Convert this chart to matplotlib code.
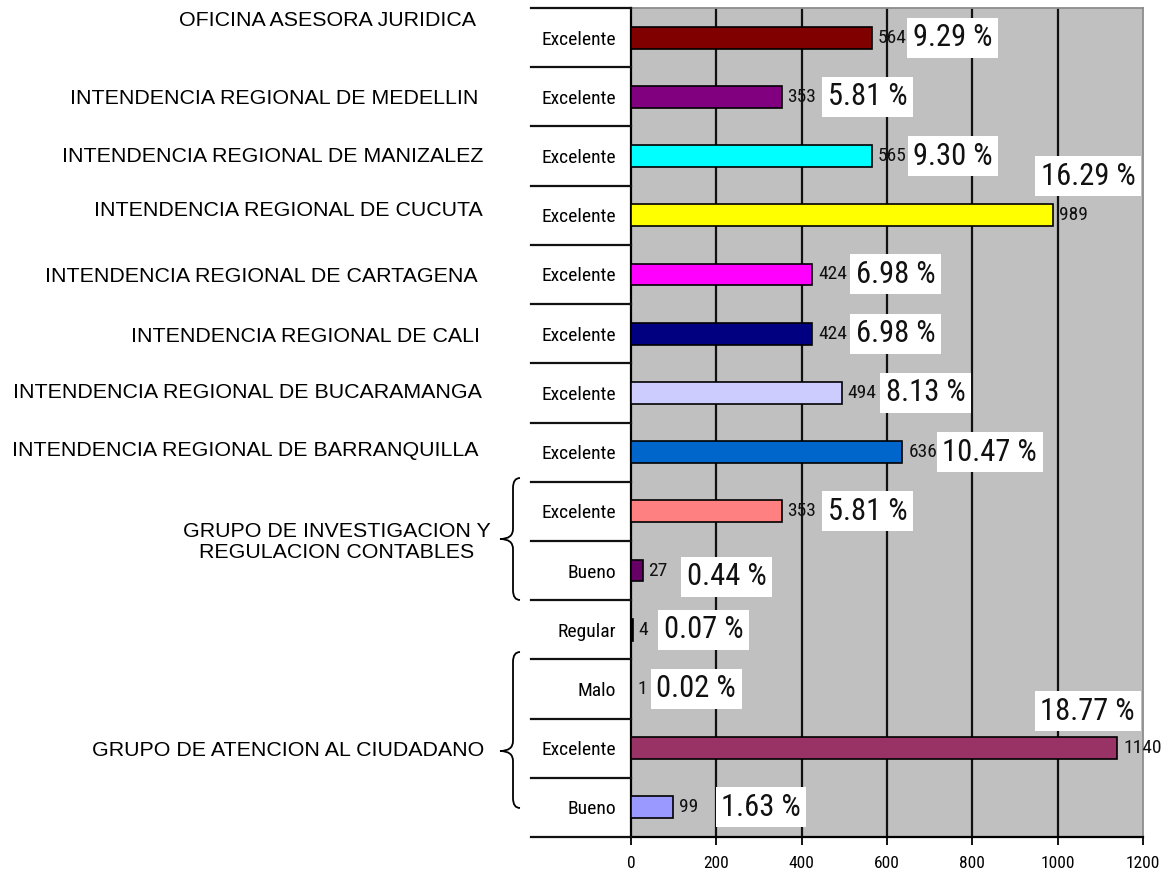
import matplotlib
matplotlib.use('Agg')
import matplotlib.pyplot as plt
from matplotlib import font_manager
from matplotlib.path import Path
from matplotlib.patches import PathPatch
from matplotlib.lines import Line2D
from matplotlib.transforms import blended_transform_factory

# ---------------- data ----------------
categories = ['Excelente', 'Excelente', 'Excelente', 'Excelente', 'Excelente',
              'Excelente', 'Excelente', 'Excelente', 'Excelente', 'Bueno',
              'Regular', 'Malo', 'Excelente', 'Bueno']
values = [564, 353, 565, 989, 424, 424, 494, 636, 353, 27, 4, 1, 1140, 99]
percents = [9.29, 5.81, 9.30, 16.29, 6.98, 6.98, 8.13, 10.47, 5.81, 0.44,
            0.07, 0.02, 18.77, 1.63]
bar_colors = ['#800000', '#800080', '#00FFFF', '#FFFF00', '#FF00FF', '#000080',
              '#CCCCFF', '#0066CC', '#FF8080', '#660066', '#000000', '#333333',
              '#993366', '#9999FF']
group_labels = ['OFICINA ASESORA JURIDICA',
                'INTENDENCIA REGIONAL DE MEDELLIN',
                'INTENDENCIA REGIONAL DE MANIZALEZ',
                'INTENDENCIA REGIONAL DE CUCUTA',
                'INTENDENCIA REGIONAL DE CARTAGENA',
                'INTENDENCIA REGIONAL DE CALI',
                'INTENDENCIA REGIONAL DE BUCARAMANGA',
                'INTENDENCIA REGIONAL DE BARRANQUILLA',
                'GRUPO DE INVESTIGACION Y\nREGULACION CONTABLES',
                'GRUPO DE ATENCION AL CIUDADANO']
xticks = [0, 200, 400, 600, 800, 1000, 1200]

# ---------------- layout (pixels) ----------------
W, H = 1165, 882
group_pos = [(476, 21), (478, 98), (483, 157), (483, 211), (478, 277),
             (480, 336), (482, 392), (478, 451), (337, 542), (484, 750)]
group_ha = ['right'] * 8 + ['center', 'right']
pct_dx = [41, 46, 41, -12, 44, 44, 44, 40, 46, 44, 31, 25, -77, 48]
pct_dy = [0, 0, 0, -39, 0, 0, 0, 0, 0, 6, 0, 0, -37, 0]
braces = [(478, 539, 600), (652, 751, 808)]

fonts = font_manager.fontManager.ttflist
fm_names = {f.name for f in fonts}
NARROW = None
for cand in ['Liberation Sans Narrow', 'Roboto Condensed', 'Open Sans Condensed',
             'Noto Sans Condensed', 'Arial Narrow']:
    if cand in fm_names:
        NARROW = dict(family=cand)
        break
if NARROW is None:
    cond = [f for f in fonts if f.name == 'DejaVu Sans' and
            'condensed' in f.fname.lower()]
    if cond:
        NARROW = dict(family='DejaVu Sans', stretch='condensed')
    else:
        NARROW = dict(family='Liberation Sans' if 'Liberation Sans' in fm_names
                      else 'DejaVu Sans')
ARIAL = 'Liberation Sans' if 'Liberation Sans' in fm_names else 'DejaVu Sans'

PX = 72.0 / 100.0  # points per pixel at dpi 100

fig = plt.figure(figsize=(W / 100, H / 100), dpi=100)
fig.patch.set_facecolor('white')


def fx(px):
    return px / W


def fy(py):
    return 1 - py / H


ax_left, ax_right, ax_top, ax_bot = 631, 1143, 8, 837
ax = fig.add_axes([fx(ax_left), fy(ax_bot), fx(ax_right) - fx(ax_left),
                   fy(ax_top) - fy(ax_bot)])
ax.set_facecolor('#C0C0C0')

n = len(values)
ypos = list(range(n))
ax.set_xlim(0, 1200)
ax.set_ylim(n - 0.5, -0.5)

for xv in xticks[1:-1]:
    ax.axvline(xv, color='#111111', lw=1.6, zorder=1)

ax.barh(ypos, values, height=0.37, color=bar_colors, edgecolor='black',
        linewidth=1.2, zorder=3)

for i, (v, p) in enumerate(zip(values, percents)):
    ax.annotate(str(v), xy=(v, i), xytext=(6 * PX, 0), textcoords='offset points',
                ha='left', va='center', fontsize=14, color='#111111', zorder=5,
                annotation_clip=False, **NARROW)
    ax.annotate(f'{p:.2f} %', xy=(v, i), xytext=(pct_dx[i] * PX, -pct_dy[i] * PX),
                textcoords='offset points', ha='left', va='center',
                fontsize=22, color='#111111', zorder=6, annotation_clip=False,
                bbox=dict(boxstyle='square,pad=0.18', facecolor='white',
                          edgecolor='none'),
                **NARROW)

ax.set_yticks(ypos)
ax.set_yticklabels(categories, fontsize=14, **NARROW)
ax.tick_params(axis='y', length=0, pad=15 * PX)
ax.set_xticks(xticks)
ax.set_xticklabels([str(t) for t in xticks], fontsize=12.5, **NARROW)
ax.tick_params(axis='x', length=8 * PX, width=1.3, direction='out',
               pad=11 * PX, color='black')

for s in ['top', 'right']:
    ax.spines[s].set_color('#8c8c8c')
    ax.spines[s].set_linewidth(1.3)
for s in ['left', 'bottom']:
    ax.spines[s].set_color('black')
    ax.spines[s].set_linewidth(1.6)

trans = blended_transform_factory(fig.transFigure, ax.transData)
for k in range(n + 1):
    ln = Line2D([fx(531), fx(ax_left)], [k - 0.5, k - 0.5], transform=trans,
                color='#111111', lw=1.6, clip_on=False)
    fig.add_artist(ln)

for lab, (px, py), ha in zip(group_labels, group_pos, group_ha):
    fig.text(fx(px), fy(py), lab, ha=ha, va='center', fontsize=15.4,
             family=ARIAL, color='black', linespacing=1.15)

for (top, tip, bot) in braces:
    xl, xe, xt = 513, 520, 500
    r = 10
    verts = [
        (xe, top), (xl, top), (xl, top + r),
        (xl, tip - r),
        (xl, tip), (xt, tip),
        (xl, tip), (xl, tip + r),
        (xl, bot - r),
        (xl, bot), (xe, bot),
    ]
    codes = [Path.MOVETO, Path.CURVE3, Path.CURVE3,
             Path.LINETO,
             Path.CURVE3, Path.CURVE3,
             Path.CURVE3, Path.CURVE3,
             Path.LINETO,
             Path.CURVE3, Path.CURVE3]
    verts_f = [(fx(a), fy(b)) for a, b in verts]
    patch = PathPatch(Path(verts_f, codes), facecolor='none', edgecolor='black',
                      lw=1.3, transform=fig.transFigure)
    fig.add_artist(patch)

fig.savefig('out.png', dpi=100, facecolor='white')
